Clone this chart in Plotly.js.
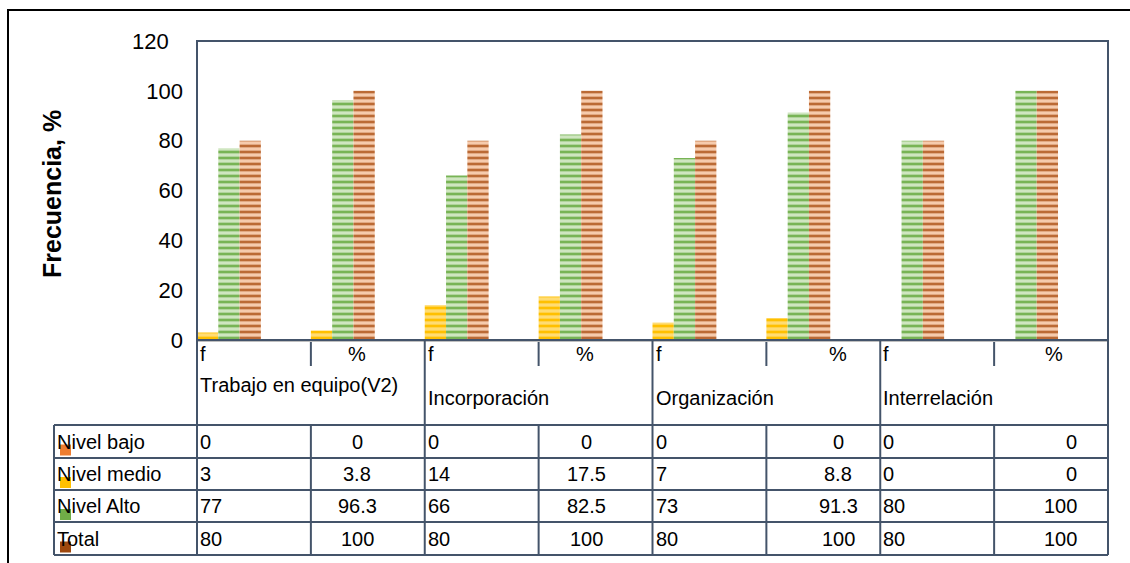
<!DOCTYPE html>
<html>
<head>
<meta charset="utf-8">
<script src="https://cdn.plot.ly/plotly-3.0.1.min.js"></script>
<style>
  html, body { margin: 0; padding: 0; background: #ffffff; }
  #chart { width: 1130px; height: 563px; }
</style>
</head>
<body>
<div id="chart"></div>
<script>
// Dimensions of the teamwork variable and its sub-columns
const groups = ["Trabajo en equipo(V2)", "Incorporación", "Organización", "Interrelación"];
const subLabels = ["f", "%"];

// Row labels of the data table (one series per row)
const seriesNames = ["Nivel bajo", "Nivel medio", "Nivel Alto", "Total"];

// Values per column: f, % for each dimension
const nivelBajo  = [0, 0, 0, 0, 0, 0, 0, 0];
const nivelMedio = [3, 3.8, 14, 17.5, 7, 8.8, 0, 0];
const nivelAlto  = [77, 96.3, 66, 82.5, 73, 91.3, 80, 100];
const total      = [80, 100, 80, 100, 80, 100, 80, 100];

const yTicks = [0, 20, 40, 60, 80, 100];
const yTop = 120;

const fmt = v => String(v);
const FONT = 'Liberation Sans, Arial, sans-serif';

// ---- geometry of the plotting area (pixels) ----
const W = 1130, H = 563;
const PL = 197, PR = 1108, PT = 41, PB = 340;
const PW = PR - PL, PH = PB - PT;
const px = x => (x - PL) / PW;          // pixel -> paper x
const py = y => (PB - y) / PH;          // pixel -> paper y
const nCols = groups.length * subLabels.length;
const colW = PW / nCols;
const colX = i => PL + i * colW;        // left edge of column i (pixels)

const xIdx = nivelMedio.map((_, i) => i);
const barW = 0.187;

function barTrace(name, vals, slot, bg, fg) {
  return {
    type: 'bar', name: name, x: xIdx, y: vals,
    offset: -0.5 + slot * barW, width: barW,
    marker: {
      color: bg,
      line: { width: 0 },
      pattern: { shape: '-', fillmode: 'replace', bgcolor: bg, fgcolor: fg, size: 6, solidity: 0.45 }
    },
    hoverinfo: 'x+y', showlegend: false
  };
}

const traces = [
  barTrace(seriesNames[0], nivelBajo, 0, '#f4b183', '#ed7d31'),
  barTrace(seriesNames[1], nivelMedio, 0, '#ffdc73', '#ffc000'),
  barTrace(seriesNames[2], nivelAlto, 1, '#cfe6c0', '#78b455'),
  barTrace(seriesNames[3], total, 2, '#f6cbad', '#bb6a35')
];

const LINE = '#44546a';
const shapes = [];
const annotations = [];
function seg(x0, y0, x1, y1, color, w) {
  shapes.push({ type: 'line', xref: 'paper', yref: 'paper',
    x0: px(x0), y0: py(y0), x1: px(x1), y1: py(y1),
    line: { color: color || LINE, width: w || 2 } });
}
function label(text, x, y, anchor, size, opts) {
  annotations.push(Object.assign({
    xref: 'paper', yref: 'paper', x: px(x), y: py(y), text: text,
    showarrow: false, xanchor: anchor, yanchor: 'middle',
    font: { family: FONT, size: size || 20, color: '#000000' }
  }, opts || {}));
}

// outer chart frame
shapes.push({ type: 'rect', xref: 'paper', yref: 'paper',
  x0: px(8), y0: py(10), x1: px(1145), y1: py(580),
  line: { color: '#000000', width: 2 } });

// plot area frame
shapes.push({ type: 'rect', xref: 'paper', yref: 'paper', x0: 0, y0: 0, x1: 1, y1: 1,
  line: { color: LINE, width: 2 } });

// top value label of the axis sits a little further out
annotations.push({ xref: 'paper', yref: 'y', x: px(171), y: yTop, text: String(yTop),
  showarrow: false, xanchor: 'right', yanchor: 'middle',
  font: { family: FONT, size: 22, color: '#000000' } });

// category axis rows
const rowTop = 425;
for (let g = 0; g <= groups.length; g++) {
  seg(colX(2 * g), PB, colX(2 * g), rowTop);
}
for (let g = 0; g < groups.length; g++) {
  seg(colX(2 * g + 1), PB + 2, colX(2 * g + 1), 366);
}

// sub-column labels and dimension names
const pctX = [357, 585, 838, 1054];
const nameY = [385, 398, 398, 398];
groups.forEach((name, g) => {
  label(subLabels[0], colX(2 * g) + 1, 354, 'left', 20);
  label(subLabels[1], pctX[g], 354, 'center', 20);
  label(name, colX(2 * g) + 1, nameY[g], 'left', 20);
});

// data table grid
const rowLines = [425, 458, 490, 522, 555];
rowLines.forEach(y => seg(54, y, PR, y));
seg(54, rowTop, 54, 555);
for (let i = 0; i <= nCols; i++) seg(colX(i), rowTop, colX(i), 555);

// data table contents
const tableRows = [nivelBajo, nivelMedio, nivelAlto, total];
const keyColors = ['#ed7d31', '#ffc000', '#70ad47', '#9e480e'];
const pctAlign = ['center', 'center', 'center', 'right'];
const pctPos = [357, 586, 838, 1079];
tableRows.forEach((vals, r) => {
  const yc = (rowLines[r] + rowLines[r + 1]) / 2;
  // legend key
  shapes.push({ type: 'rect', xref: 'paper', yref: 'paper',
    x0: px(60), x1: px(71), y0: py(yc + 14), y1: py(yc + 3),
    line: { width: 0 }, fillcolor: keyColors[r] });
  label(seriesNames[r], 55, yc, 'left', 20);
  groups.forEach((_, g) => {
    label(fmt(vals[2 * g]), colX(2 * g) + 1, yc, 'left', 20);
    label(fmt(vals[2 * g + 1]), pctPos[g], yc, pctAlign[g], 20);
  });
});

// y-axis title
label('<b>Frecuencia, %</b>', 52, 194, 'center', 25, { textangle: -90 });

const layout = {
  width: W, height: H,
  margin: { l: PL, r: W - PR, t: PT, b: H - PB, pad: 0 },
  paper_bgcolor: '#ffffff', plot_bgcolor: '#ffffff',
  barmode: 'overlay',
  showlegend: false,
  xaxis: {
    range: [-0.5, nCols - 0.5], showticklabels: false, showgrid: false,
    zeroline: false, showline: false, ticks: '', fixedrange: true
  },
  yaxis: {
    range: [0, yTop], tickvals: yTicks, showgrid: false, showline: false,
    zeroline: true, zerolinecolor: '#bfbfbf', zerolinewidth: 3,
    ticks: '', ticklabelstandoff: 13,
    tickfont: { family: FONT, size: 22, color: '#000000' },
    fixedrange: true, automargin: false
  },
  shapes: shapes,
  annotations: annotations
};

Plotly.newPlot('chart', traces, layout, { displayModeBar: false, staticPlot: true });
</script>
</body>
</html>
